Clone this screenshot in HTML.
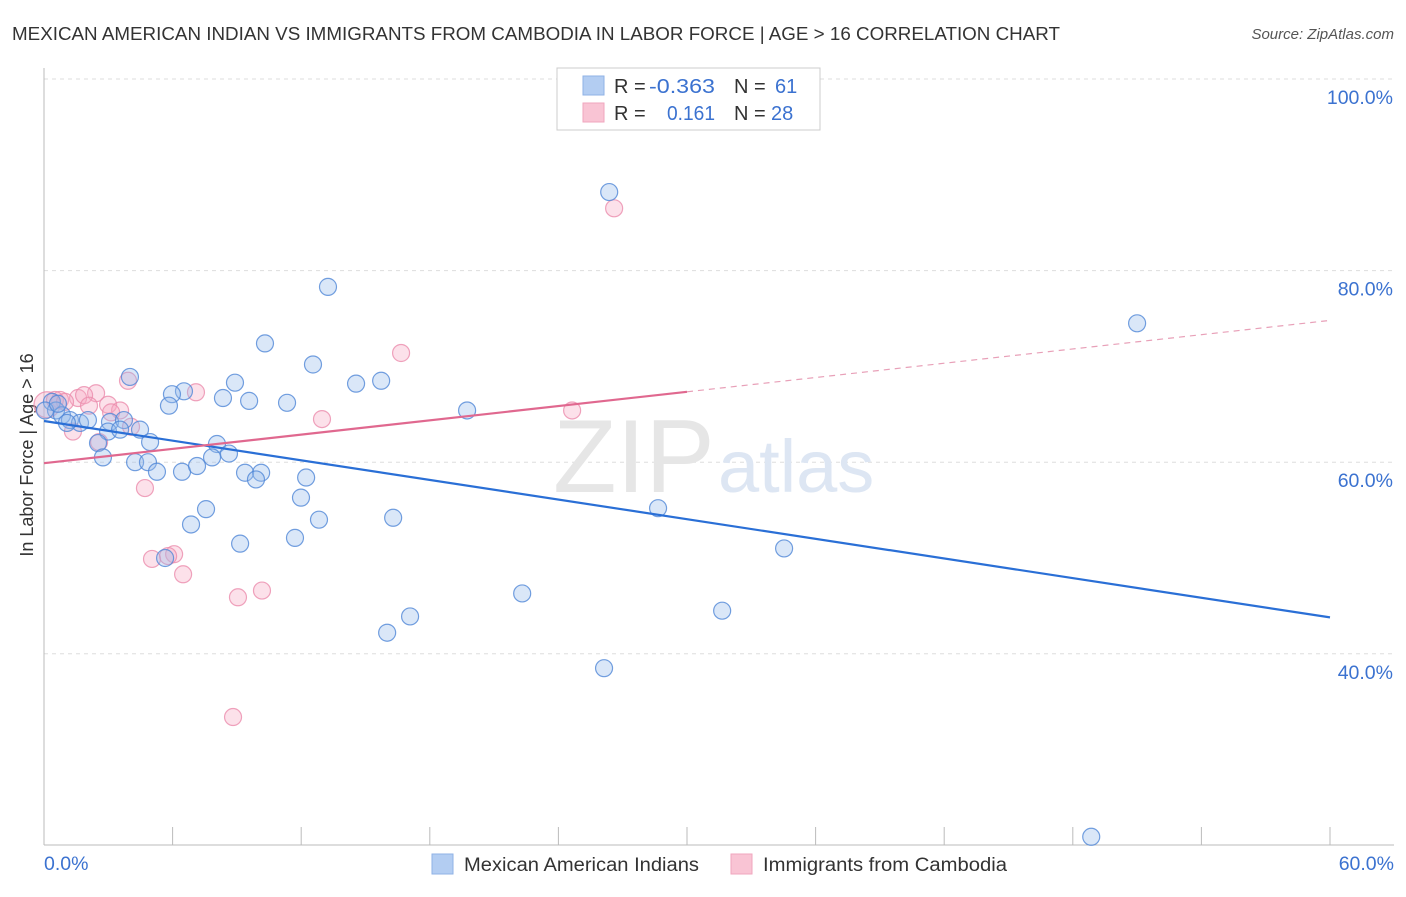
<!DOCTYPE html>
<html><head><meta charset="utf-8"><style>
body{margin:0;background:#fff;font-family:"Liberation Sans",sans-serif}
svg text{font-family:"Liberation Sans",sans-serif}
</style></head><body>
<svg id="chart" width="1406" height="892" viewBox="0 0 1406 892" xmlns="http://www.w3.org/2000/svg">
<text x="12" y="40" font-size="18" fill="#333" textLength="1048" lengthAdjust="spacingAndGlyphs">MEXICAN AMERICAN INDIAN VS IMMIGRANTS FROM CAMBODIA IN LABOR FORCE | AGE &gt; 16 CORRELATION CHART</text>
<text x="1394" y="39" font-size="15" fill="#555" font-style="italic" text-anchor="end">Source: ZipAtlas.com</text>
<g id="grid"></g>
<g><text x="553" y="492" font-size="104" fill="#e6e6e6" font-family="Liberation Serif">ZIP</text><text x="718" y="492" font-size="74" fill="#dde6f3">atlas</text></g>
<text transform="translate(33,455) rotate(-90)" font-size="18" fill="#333" text-anchor="middle">In Labor Force | Age &gt; 16</text>
<g id="marks"></g>
<g id="lines"></g>
<g>
<rect x="557" y="68" width="263" height="62" fill="#fff" stroke="#ccc"/>
<rect x="583" y="76" width="21" height="19" fill="#b3cdf2" stroke="#8fb2e6"/>
<rect x="583" y="103" width="21" height="19" fill="#f9c4d4" stroke="#f0a6be"/>
<text x="614" y="93" font-size="20" fill="#333">R = <tspan fill="#3b72d0" x="649" textLength="66" lengthAdjust="spacingAndGlyphs">-0.363</tspan></text>
<text x="734" y="93" font-size="20" fill="#333">N = <tspan fill="#3b72d0" x="775">61</tspan></text>
<text x="614" y="120" font-size="20" fill="#333">R = <tspan fill="#3b72d0" x="667" textLength="48" lengthAdjust="spacingAndGlyphs">0.161</tspan></text>
<text x="734" y="120" font-size="20" fill="#333">N = <tspan fill="#3b72d0" x="771">28</tspan></text>
</g>
<g>
<rect x="432" y="854" width="21" height="20" fill="#b3cdf2" stroke="#8fb2e6"/>
<text x="464" y="871" font-size="19" fill="#333" textLength="235" lengthAdjust="spacingAndGlyphs">Mexican American Indians</text>
<rect x="731" y="854" width="21" height="20" fill="#f9c4d4" stroke="#f0a6be"/>
<text x="763" y="871" font-size="19" fill="#333" textLength="244" lengthAdjust="spacingAndGlyphs">Immigrants from Cambodia</text>
</g>
</svg>
<script>
const yTicks=[100,80,60,40];
const yTickLabels=["100.0%","80.0%","60.0%","40.0%"];
const xTicks=[0,6,12,18,24,30,36,42,48,54,60];
const xEndLabels=["0.0%","60.0%"];
const blueX=[26.37,13.25,51.0,10.31,12.55,4.01,8.91,14.56,15.73,6.53,5.97,8.35,9.57,5.83,11.34,19.74,0.37,0.56,0.84,1.21,1.68,2.05,1.07,3.08,3.73,2.99,3.55,4.48,2.52,4.95,8.07,8.63,7.84,2.75,4.25,4.85,5.27,6.44,7.14,9.38,10.13,9.89,12.23,11.99,7.56,6.86,12.83,16.29,28.65,9.15,11.71,34.53,5.65,22.31,17.08,16.01,31.64,26.13,48.86,0.05,0.65];
const blueY=[88.2,78.3,74.5,72.4,70.2,68.9,68.3,68.2,68.5,67.4,67.1,66.7,66.4,65.9,66.2,65.4,66.3,65.4,64.9,64.4,64.1,64.4,64.1,64.2,64.4,63.2,63.4,63.4,62.0,62.1,61.9,60.9,60.5,60.5,60.0,60.0,59.0,59.0,59.6,58.9,58.9,58.2,58.4,56.3,55.1,53.5,54.0,54.2,55.2,51.5,52.1,51.0,50.0,46.3,43.9,42.2,44.5,38.5,20.9,65.4,66.1];
const pinkX=[0.14,0.75,1.59,2.43,1.87,3.92,7.09,2.10,2.99,3.55,2.57,1.35,4.06,16.66,12.97,24.64,26.6,4.71,5.04,6.07,5.79,6.49,9.05,10.17,8.82,0.51,0.98,3.13];
const pinkY=[66.0,66.5,66.7,67.2,67.0,68.5,67.3,65.9,66.0,65.4,62.1,63.2,63.7,71.4,64.5,65.4,86.5,57.3,49.9,50.4,50.2,48.3,45.9,46.6,33.4,66.5,66.3,65.2];
const blueTrend=[64.3,43.8];
const pinkTrend=[59.9,74.8];
const pinkSolidEnd=30;
const X0=44,X1=1330,Y100=79,PXPER=9.58;
const sx=v=>X0+(X1-X0)*v/60;
const sy=v=>Y100+(100-v)*PXPER;
const NS="http://www.w3.org/2000/svg";
function mk(tag,attrs,parent){const e=document.createElementNS(NS,tag);for(const k in attrs)e.setAttribute(k,attrs[k]);parent.appendChild(e);return e;}
const grid=document.getElementById('grid');
yTicks.forEach((t,i)=>{
  const l=mk('line',{x1:X0,x2:1394,y1:sy(t),y2:sy(t),stroke:'#ddd','stroke-dasharray':'4,4'},grid);
  
  
  const tx=mk('text',{x:1393,y:sy(t)+25,'font-size':19.5,fill:'#3b72d0','text-anchor':'end'},grid);
  tx.textContent=yTickLabels[i];
  
  
});
const ax=mk('line',{x1:X0,x2:X0,y1:68,y2:845,stroke:'#bbb'},grid);


const bx=mk('line',{x1:X0,x2:1394,y1:845,y2:845,stroke:'#bbb'},grid);


xTicks.forEach(t=>{
  const l=mk('line',{x1:sx(t),x2:sx(t),y1:827,y2:845,stroke:'#bbb'},grid);
  
  
});
[[0,'start',44],[60,'end',1394]].forEach((d,i)=>{
  const tx=mk('text',{x:d[2],y:870,'font-size':19.5,fill:'#3b72d0','text-anchor':d[1]},grid);
  tx.textContent=xEndLabels[i];
  
  
});
const marks=document.getElementById('marks');


pinkX.forEach((x,i)=>{
  const c=mk('circle',{cx:sx(x),cy:sy(pinkY[i]),r:i==0?13:8.5,fill:'rgba(246,170,195,0.35)',stroke:'rgba(235,140,172,0.8)','stroke-width':1.2},marks);
  
  
});
blueX.forEach((x,i)=>{
  const c=mk('circle',{cx:sx(x),cy:sy(blueY[i]),r:8.5,fill:'rgba(150,185,235,0.35)',stroke:'rgba(80,135,215,0.8)','stroke-width':1.2},marks);
  
  
});
const lines=document.getElementById('lines');
const pAt=x=>pinkTrend[0]+(pinkTrend[1]-pinkTrend[0])*x/60;
let l=mk('line',{x1:sx(0),y1:sy(blueTrend[0]),x2:sx(60),y2:sy(blueTrend[1]),stroke:'#2a6fd6','stroke-width':2.2},lines);


l=mk('line',{x1:sx(0),y1:sy(pAt(0)),x2:sx(pinkSolidEnd),y2:sy(pAt(pinkSolidEnd)),stroke:'#e0688f','stroke-width':2.2},lines);


l=mk('line',{x1:sx(pinkSolidEnd),y1:sy(pAt(pinkSolidEnd)),x2:sx(60),y2:sy(pAt(60)),stroke:'#e8a0b8','stroke-width':1.2,'stroke-dasharray':'6,5'},lines);


</script>
</body></html>
